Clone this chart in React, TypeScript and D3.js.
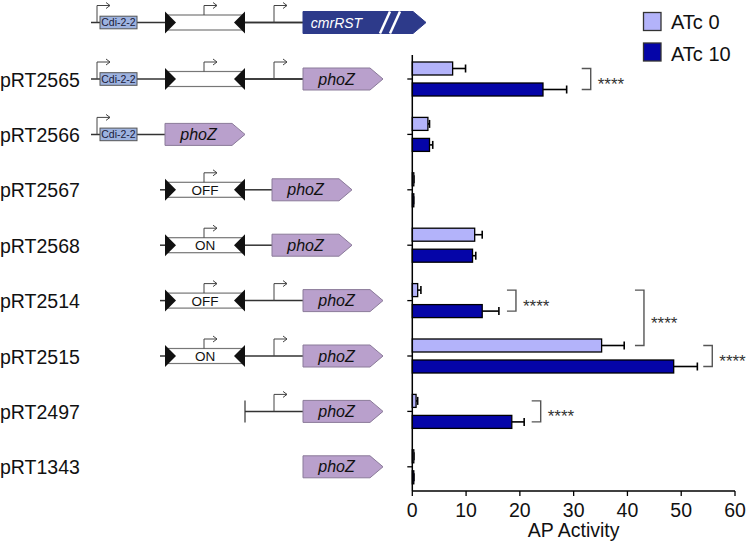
import React from "react";
import * as d3 from "d3";

const categories = ["pRT2565", "pRT2566", "pRT2567", "pRT2568", "pRT2514", "pRT2515", "pRT2497", "pRT1343"];
const atc0 = [7.5, 2.9, 0.2, 11.6, 1.0, 35.2, 0.7, 0.2];
const atc0Err = [2.4, 0.3, 0.1, 1.4, 0.6, 4.2, 0.3, 0.1];
const atc10 = [24.3, 3.2, 0.15, 11.2, 13.0, 48.6, 18.5, 0.2];
const atc10Err = [4.4, 0.6, 0.1, 0.6, 3.1, 4.4, 2.3, 0.1];
const xTicks = [0, 10, 20, 30, 40, 50, 60];
const seriesNames = ["ATc 0", "ATc 10"];
// significance: from (category, series) to (category, series), bracket x in AP units, label
const sigFrom = ["pRT2565", "pRT2514", "pRT2514", "pRT2515", "pRT2497"];
const sigFromSeries = [0, 0, 0, 0, 0];
const sigTo = ["pRT2565", "pRT2514", "pRT2515", "pRT2515", "pRT2497"];
const sigToSeries = [1, 1, 0, 1, 1];
const sigX = [31.5, 17.6, 41.4, 54.1, 22.2];
const sigLabel = ["****", "****", "****", "****", "****"];
// construct features
const constructParts: string[][] = [
  ["cdiLine", "cdi", "inv", "lineProm", "phoZ"],
  ["cdiShort", "cdi", "phoZShort"],
  ["stub", "invOFF", "lineShort", "phoZMid"],
  ["stub", "invON", "lineShort", "phoZMid"],
  ["stub", "invOFF", "lineProm", "phoZ"],
  ["stub", "invON", "lineProm", "phoZ"],
  ["bar", "lineProm", "phoZ"],
  ["phoZ"],
];

const C0 = "#b3b3fa";
const C10 = "#0505a8";
const FONT = "Liberation Sans, Arial, sans-serif";
const LINE = "#333";

function Promoter({ x, y0, c }: { x: number; y0: number; c: number }) {
  const top = c - 17;
  return (
    <g stroke="#444" strokeWidth={1} fill="none">
      <path d={`M${x},${y0}V${top}H${x + 13}`} />
      <path d={`M${x + 9},${top - 3}L${x + 13},${top}L${x + 9},${top + 3}`} />
    </g>
  );
}

function Gene({ x0, x1, c, label, fill, stroke, color, slashes }: any) {
  const tip = 13;
  const h = 11;
  const d = `M${x0},${c - h}H${x1 - tip}L${x1},${c}L${x1 - tip},${c + h}H${x0}Z`;
  return (
    <g>
      <path d={d} fill={fill} stroke={stroke} strokeWidth={1} />
      {slashes && (
        <g stroke="#fff" strokeWidth={2.5}>
          <line x1={x1 - 46} y1={c + h} x2={x1 - 36} y2={c - h} />
          <line x1={x1 - 36} y1={c + h} x2={x1 - 26} y2={c - h} />
        </g>
      )}
      <text
        x={slashes ? (x0 + x1 - 56) / 2 : (x0 + x1 - tip) / 2}
        y={c + 5.5}
        textAnchor="middle"
        fontFamily={FONT}
        fontStyle="italic"
        fontSize={slashes ? 14 : 16}
        fill={color}
      >
        {label}
      </text>
    </g>
  );
}

function Inv({ c, label }: { c: number; label?: string }) {
  return (
    <g>
      <rect x={168} y={c - 7.5} width={75} height={15} fill="#fff" stroke="#777" strokeWidth={1.2} />
      <path d={`M165,${c - 11}L176,${c}L165,${c + 11}Z`} fill="#111" />
      <path d={`M245,${c - 11}L234,${c}L245,${c + 11}Z`} fill="#111" />
      <Promoter x={204} y0={c - 7.5} c={c} />
      {label && (
        <text x={205} y={c + 5} textAnchor="middle" fontFamily={FONT} fontSize={13.5} fill="#111">
          {label}
        </text>
      )}
    </g>
  );
}

function Cdi({ c }: { c: number }) {
  return (
    <g>
      <rect x={100} y={c - 6.3} width={37} height={12.6} fill="#9db2df" stroke="#555" strokeWidth={1} />
      <text x={118.5} y={c + 3.8} textAnchor="middle" fontFamily={FONT} fontSize={10.5} fill="#1a1a3a">
        Cdi-2-2
      </text>
      <Promoter x={97} y0={c} c={c} />
    </g>
  );
}

function Construct({ parts, c, top }: { parts: string[]; c: number; top?: boolean }) {
  const el: React.ReactNode[] = [];
  parts.forEach((p, i) => {
    const k = i;
    if (p === "cdiLine") el.push(<line key={k} x1={91} x2={303} y1={c} y2={c} stroke={LINE} strokeWidth={1.5} />);
    if (p === "cdiShort") el.push(<line key={k} x1={91} x2={165} y1={c} y2={c} stroke={LINE} strokeWidth={1.5} />);
    if (p === "stub") el.push(<line key={k} x1={160} x2={166} y1={c} y2={c} stroke={LINE} strokeWidth={1.5} />);
    if (p === "lineShort") el.push(<line key={k} x1={245} x2={272} y1={c} y2={c} stroke={LINE} strokeWidth={1.5} />);
    if (p === "lineProm")
      el.push(
        <g key={k}>
          <line x1={245} x2={303} y1={c} y2={c} stroke={LINE} strokeWidth={1.5} />
          <Promoter x={274} y0={c} c={c} />
        </g>
      );
    if (p === "bar") el.push(<line key={k} x1={245} x2={245} y1={c - 11} y2={c + 11} stroke={LINE} strokeWidth={1.2} />);
    if (p === "cdi") el.push(<Cdi key={k} c={c} />);
    if (p === "inv") el.push(<Inv key={k} c={c} />);
    if (p === "invOFF") el.push(<Inv key={k} c={c} label="OFF" />);
    if (p === "invON") el.push(<Inv key={k} c={c} label="ON" />);
    if (p === "phoZ") {
      if (top)
        el.push(<Gene key={k} x0={303} x1={426} c={c} label="cmrRST" fill="#2d3a8a" stroke="#2d3a8a" color="#fff" slashes />);
      else el.push(<Gene key={k} x0={303} x1={383} c={c} label="phoZ" fill="#b9a0cc" stroke="#8a7a99" color="#111" />);
    }
    if (p === "phoZShort") el.push(<Gene key={k} x0={165} x1={245} c={c} label="phoZ" fill="#b9a0cc" stroke="#8a7a99" color="#111" />);
    if (p === "phoZMid") el.push(<Gene key={k} x0={272} x1={352} c={c} label="phoZ" fill="#b9a0cc" stroke="#8a7a99" color="#111" />);
  });
  return <g>{el}</g>;
}

export default function App() {
  const x = d3.scaleLinear().domain([0, 60]).range([412.3, 735]);
  const y = d3.scalePoint<string>().domain(categories).range([79, 466.8]);
  const barH = 13;
  const off = [-17, 4];
  const series = [
    { vals: atc0, errs: atc0Err, color: C0 },
    { vals: atc10, errs: atc10Err, color: C10 },
  ];
  const axisY = 491;
  const barCenter = (cat: string, s: number) => (y(cat) as number) + off[s] + barH / 2;

  return (
    <svg width={750} height={546} style={{ position: "absolute", left: 0, top: 0, background: "#fff" }}>
      <rect width={750} height={546} fill="#fff" />
      <Construct parts={constructParts[0]} c={22.5} top />
      {categories.map((cat, i) => (
        <g key={cat}>
          <text x={0} y={(y(cat) as number) + 7.5} fontFamily={FONT} fontSize={19.5} fill="#111">
            {cat}
          </text>
          <Construct parts={constructParts[i]} c={y(cat) as number} />
        </g>
      ))}
      {series.map((s, si) =>
        categories.map((cat, i) => {
          const yc = (y(cat) as number) + off[si];
          const xe = x(s.vals[i] + s.errs[i]);
          const ym = yc + barH / 2;
          return (
            <g key={cat + si}>
              <line x1={x(s.vals[i])} x2={xe} y1={ym} y2={ym} stroke="#000" strokeWidth={1.6} />
              <line x1={xe} x2={xe} y1={ym - 4} y2={ym + 4} stroke="#000" strokeWidth={1.6} />
              <rect
                x={x(0)}
                y={yc}
                width={Math.max(x(s.vals[i]) - x(0), 1.5)}
                height={barH}
                fill={s.color}
                stroke="#000"
                strokeWidth={1.3}
              />
            </g>
          );
        })
      )}
      <line x1={x(0)} x2={x(0)} y1={55} y2={axisY} stroke="#000" strokeWidth={1.5} />
      {categories.map((cat) => (
        <line key={cat} x1={x(0) - 5} x2={x(0)} y1={y(cat)} y2={y(cat)} stroke="#000" strokeWidth={1.3} />
      ))}
      <line x1={x(0)} x2={x(60)} y1={axisY} y2={axisY} stroke="#000" strokeWidth={1.5} />
      {xTicks.map((t) => (
        <g key={t}>
          <line x1={x(t)} x2={x(t)} y1={axisY} y2={axisY + 5} stroke="#000" strokeWidth={1.3} />
          <text x={x(t)} y={516.5} textAnchor="middle" fontFamily={FONT} fontSize={19.5} fill="#111">
            {t}
          </text>
        </g>
      ))}
      <text x={x(30)} y={537} textAnchor="middle" fontFamily={FONT} fontSize={19.5} fill="#111">
        AP Activity
      </text>
      {sigLabel.map((lab, i) => {
        const y1 = barCenter(sigFrom[i], sigFromSeries[i]);
        const y2 = barCenter(sigTo[i], sigToSeries[i]);
        const bx = x(sigX[i]);
        return (
          <g key={i}>
            <path d={`M${bx},${y1}H${bx + 9}V${y2}H${bx}`} fill="none" stroke="#555" strokeWidth={1.4} />
            <text x={bx + 16} y={(y1 + y2) / 2 + 11} fontFamily={FONT} fontSize={17} fill="#333">
              {lab}
            </text>
          </g>
        );
      })}
      {seriesNames.map((n, i) => (
        <g key={n}>
          <rect x={643.5} y={12.5 + i * 30.5} width={17.5} height={18} fill={i === 0 ? C0 : C10} stroke="#333" strokeWidth={1.3} />
          <text x={671} y={28.5 + i * 32.5} fontFamily={FONT} fontSize={20} fill="#111">
            {n}
          </text>
        </g>
      ))}
    </svg>
  );
}
